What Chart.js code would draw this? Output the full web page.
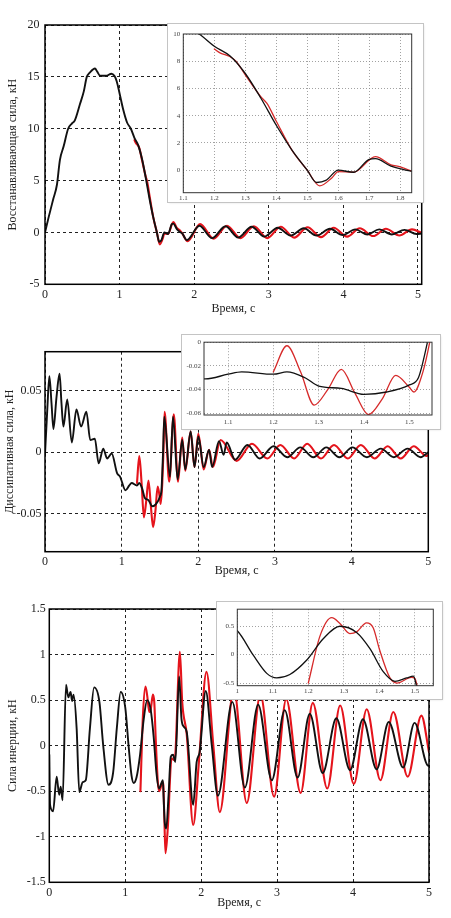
<!DOCTYPE html>
<html><head><meta charset="utf-8">
<script src="https://cdn.jsdelivr.net/npm/chart.js@4/dist/chart.umd.min.js"></script>
<style>
html,body{margin:0;padding:0;background:#fff;}
body{width:451px;height:918px;position:relative;overflow:hidden;}
canvas{position:absolute;display:block;}
.inset{outline:1px solid #c4c4c4;background:#fff;box-shadow:1px 1px 2px rgba(0,0,0,0.12);}
</style></head>
<body>
<canvas id="c1" width="451" height="318" style="left:0;top:0"></canvas>
<canvas id="c2" width="451" height="262" style="left:0;top:318px"></canvas>
<canvas id="c3" width="451" height="338" style="left:0;top:580px"></canvas>
<canvas id="i1" class="inset" width="255" height="178" style="left:168px;top:24px"></canvas>
<canvas id="i2" class="inset" width="258" height="94" style="left:182px;top:335px"></canvas>
<canvas id="i3" class="inset" width="225" height="97" style="left:217px;top:602px"></canvas>
<script>
// ---------- DATA ----------
// Restoring force (kN) — black: measured/reference, red: model (from 1.2 s)
const restT_black = [0,0.05,0.11,0.16,0.2,0.25,0.31,0.36,0.40,0.47,0.52,0.56,0.6,0.67,0.70,0.74,0.82,0.89,0.93,0.96,1.0,1.05,1.1,1.151,1.2,1.25,1.3,1.35,1.4,1.45,1.5,1.53,1.56,1.6,1.65,1.7,1.72,1.77,1.81,1.84,1.9,2.07,2.24,2.42,2.59,2.77,2.94,3.12,3.29,3.47,3.64,3.82,3.99,4.16,4.32,4.48,4.65,4.82,4.98,5.05];
const restV_black = [0,1.5,3.2,4.6,7.0,8.3,10.0,10.5,10.8,12.4,13.6,15.0,15.4,15.8,15.5,15.1,15.1,15.3,15.1,14.6,13.4,11.8,10.6,10.0,9.1,8.4,7.1,5.3,3.3,1.5,0.0,-0.9,-0.75,0.0,-0.15,0.8,0.85,0.3,0.05,-0.1,-0.74,0.65,-0.55,0.6,-0.5,0.55,-0.4,0.45,-0.3,0.4,-0.3,0.35,-0.25,0.3,-0.2,0.3,-0.2,0.25,-0.15,-0.1];
const restT_red = [1.2,1.22,1.25,1.27,1.3,1.35,1.37,1.4,1.45,1.5,1.54,1.58,1.6,1.65,1.72,1.77,1.8,1.84,1.91,2.08,2.26,2.44,2.62,2.80,2.98,3.16,3.34,3.52,3.70,3.87,4.05,4.22,4.40,4.57,4.75,4.92,5.05];
const restV_red = [8.9,8.6,8.35,8.0,7.0,5.4,4.9,3.6,1.5,0.0,-1.15,-0.55,-0.1,-0.15,1.0,0.4,0.25,-0.1,-0.85,0.8,-0.6,0.65,-0.55,0.6,-0.55,0.55,-0.5,0.5,-0.45,0.45,-0.4,0.4,-0.35,0.35,-0.3,0.3,-0.05];

// Dissipative force (kN)
const dissT_black = [0,0.03,0.057,0.085,0.11,0.15,0.19,0.215,0.24,0.29,0.35,0.41,0.47,0.54,0.59,0.65,0.70,0.76,0.81,0.87,0.94,0.98,1.05,1.1,1.13,1.2,1.23,1.27,1.3,1.35,1.4,1.45,1.5,1.52,1.54,1.556,1.63,1.67,1.73,1.79,1.83,1.9,1.95,2.0,2.07,2.14,2.18,2.27,2.33,2.37,2.48,2.64,2.8,2.98,3.16,3.33,3.5,3.67,3.84,4.01,4.2,4.38,4.55,4.73,4.9,5.0];
const dissV_black = [-0.002,0.035,0.062,0.04,0.019,0.045,0.064,0.04,0.021,0.043,0.008,0.035,0.021,0.033,0.01,0.011,-0.009,0.003,-0.005,-0.001,-0.017,-0.02,-0.031,-0.027,-0.025,-0.027,-0.025,-0.030,-0.037,-0.039,-0.044,-0.042,-0.036,-0.030,0.0,0.029,-0.020,0.029,-0.022,0.01,-0.014,0.017,-0.012,0.013,-0.012,0.002,-0.012,0.009,-0.002,0.008,-0.006,0.006,-0.005,0.005,-0.004,0.004,-0.004,0.004,-0.004,0.004,-0.004,0.003,-0.004,0.003,-0.004,0.0];
const dissT_red = [1.2,1.23,1.26,1.29,1.32,1.35,1.38,1.41,1.44,1.47,1.5,1.51,1.53,1.545,1.56,1.62,1.68,1.735,1.79,1.83,1.9,1.95,2.0,2.07,2.14,2.19,2.29,2.50,2.70,2.90,3.07,3.25,3.42,3.60,3.77,3.95,4.12,4.30,4.47,4.64,4.81,4.98,5.0];
const dissV_red = [-0.025,-0.003,-0.025,-0.053,-0.04,-0.023,-0.043,-0.061,-0.048,-0.028,-0.038,-0.042,-0.025,0.0,0.033,-0.024,0.031,-0.024,0.012,-0.015,0.017,-0.012,0.015,-0.014,0.002,-0.012,0.010,-0.007,0.007,-0.005,0.006,-0.005,0.007,-0.005,0.006,-0.005,0.006,-0.005,0.005,-0.005,0.005,-0.003,-0.002];

// Inertia force (kN)
const inerT_black = [0,0.01,0.05,0.097,0.13,0.15,0.175,0.22,0.25,0.28,0.30,0.32,0.36,0.395,0.44,0.48,0.535,0.59,0.66,0.71,0.78,0.84,0.89,0.94,1.0,1.045,1.083,1.111,1.148,1.195,1.242,1.289,1.336,1.374,1.411,1.444,1.477,1.496,1.505,1.52,1.54,1.57,1.6,1.63,1.66,1.71,1.74,1.77,1.81,1.895,1.94,1.98,2.06,2.14,2.22,2.41,2.575,2.75,2.93,3.10,3.27,3.43,3.60,3.78,3.96,4.13,4.31,4.47,4.66,4.81,4.99,5.0];
const inerV_black = [-0.1,-0.65,-0.72,-0.34,-0.54,-0.45,-0.6,0.67,0.53,0.59,0.49,0.56,0.19,-0.51,-0.40,-0.38,0.19,0.64,0.48,0.0,-0.43,-0.30,0.2,0.59,0.42,-0.01,-0.33,-0.41,-0.35,-0.1,0.28,0.5,0.39,0.1,-0.3,-0.47,-0.41,-0.38,-0.56,-0.84,-0.91,-0.55,-0.12,-0.1,-0.18,0.76,0.3,0.21,0.15,-0.65,-0.18,-0.07,0.6,0.0,-0.55,0.48,-0.46,0.45,-0.38,0.39,-0.35,0.35,-0.30,0.30,-0.27,0.29,-0.26,0.26,-0.24,0.25,-0.22,-0.22];
const inerT_red = [1.2,1.233,1.266,1.289,1.317,1.336,1.364,1.383,1.40,1.43,1.45,1.49,1.5,1.515,1.53,1.56,1.61,1.65,1.72,1.75,1.81,1.895,1.97,2.07,2.16,2.245,2.43,2.6,2.78,2.96,3.12,3.31,3.47,3.66,3.83,4.01,4.18,4.36,4.53,4.72,4.9,5.0];
const inerV_red = [-0.5,0.33,0.65,0.55,0.37,0.4,0.56,0.47,0.1,-0.41,-0.5,-0.4,-0.42,-0.8,-1.18,-0.91,-0.14,-0.16,1.03,0.48,0.12,-0.87,-0.18,0.81,0.0,-0.73,0.62,-0.63,0.56,-0.56,0.51,-0.52,0.47,-0.47,0.44,-0.42,0.40,-0.38,0.37,-0.34,0.33,-0.07];

// Tick labels
const xTicksMain = [0,1,2,3,4,5];
const yTicksRest = [-5,0,5,10,15,20];
const yTicksDiss = [-0.05,0,0.05];
const yTicksIner = [-1.5,-1,-0.5,0,0.5,1,1.5];
const xTicksInset1 = [1.1,1.2,1.3,1.4,1.5,1.6,1.7,1.8];
const yTicksInset1 = [0,2,4,6,8,10];
const xTicksInset2 = [1.1,1.2,1.3,1.4,1.5];
const yTicksInset2 = [-0.06,-0.04,-0.02,0];
const xTicksInset3 = [1,1.1,1.2,1.3,1.4,1.5];
const yTicksInset3 = [-0.5,0,0.5];

const xTitle = 'Время, с';
const yTitleRest = 'Восстанавливающая сила, кН';
const yTitleDiss = 'Диссипативная сила, кН';
const yTitleIner = 'Сила инерции, кН';

// ---------- RENDERING ----------
const SERIF = "'Liberation Serif','DejaVu Serif',serif";
const pts = (t, v) => t.map((x, i) => ({x, y: v[i]}));

const framePlugin = {
  id: 'frame',
  afterDraw(chart, args, o) {
    const {ctx, chartArea: a} = chart;
    ctx.save();
    ctx.strokeStyle = o.color || '#000';
    ctx.lineWidth = o.width || 1;
    ctx.strokeRect(a.left, a.top, a.right - a.left, a.bottom - a.top);
    ctx.restore();
  }
};

function fmt(v) { return String(+v.toFixed(4)); }

function makeChart(id, o) {
  const W = o.W, H = o.H, A = o.area;
  const small = !!o.inset;
  const gridStyle = small
    ? {color: '#8a8a8a', lineWidth: 0.8, drawTicks: false}
    : {color: '#222', lineWidth: 1, drawTicks: false};
  const dash = small ? [1, 2] : [3, 3];
  const tickFont = {family: SERIF, size: small ? 7 : 12};
  const tickColor = small ? '#444' : '#222';
  const titleFont = {family: SERIF, size: 12};
  return new Chart(document.getElementById(id), {
    type: 'line',
    data: {datasets: [
      {data: pts(o.bt, o.bv), borderColor: '#111', borderWidth: small ? 1.3 : 1.9, order: 0},
      {data: pts(o.rt, o.rv), borderColor: small ? '#d62a2a' : '#e5141c', borderWidth: small ? 1.3 : 2.1, order: 1}
    ]},
    options: {
      responsive: false, animation: false, events: [],
      layout: {padding: {left: 0, top: A.t, right: W - A.r, bottom: 0}},
      plugins: {legend: {display: false}, tooltip: {enabled: false},
                frame: {color: small ? '#333' : '#000', width: small ? 1 : 1.5}},
      elements: {point: {radius: 0}, line: {cubicInterpolationMode: 'monotone', borderJoinStyle: 'round', borderCapStyle: 'round'}},
      scales: {
        x: {
          type: 'linear', min: o.xmin, max: o.xmax,
          afterBuildTicks: s => { s.ticks = o.xt.map(v => ({value: v})); },
          afterFit: s => { s.height = H - A.b; },
          grid: gridStyle, border: {display: false, dash: dash},
          ticks: {font: tickFont, color: tickColor, padding: o.xPad, maxRotation: 0, autoSkip: false, callback: v => fmt(v)},
          title: o.xTitle ? {display: true, text: o.xTitle, font: titleFont, color: '#222', padding: {top: 0, bottom: o.xTitlePad}} : {display: false}
        },
        y: {
          type: 'linear', min: o.ymin, max: o.ymax,
          afterBuildTicks: s => { s.ticks = o.yt.map(v => ({value: v})); },
          afterFit: s => { s.width = A.l; },
          grid: gridStyle, border: {display: false, dash: dash},
          ticks: {font: tickFont, color: tickColor, padding: o.yPad, autoSkip: false, callback: v => fmt(v)},
          title: o.yTitle ? {display: true, text: o.yTitle, font: titleFont, color: '#222', padding: {top: o.yTitlePad, bottom: 0}} : {display: false}
        }
      }
    },
    plugins: [framePlugin]
  });
}

// Main charts
makeChart('c1', {W: 451, H: 318, area: {l: 45, t: 25, r: 421.7, b: 284.3},
  bt: restT_black, bv: restV_black, rt: restT_red, rv: restV_red,
  xmin: 0, xmax: 5.05, ymin: -5, ymax: 20, xt: xTicksMain, yt: yTicksRest,
  xPad: 3, yPad: 5.5, xTitle: xTitle, xTitlePad: 1.8, yTitle: yTitleRest, yTitlePad: 5.8});

makeChart('c2', {W: 451, H: 262, area: {l: 45, t: 33.7, r: 428.3, b: 233.7},
  bt: dissT_black, bv: dissV_black, rt: dissT_red, rv: dissV_red,
  xmin: 0, xmax: 5, ymin: -0.081, ymax: 0.082, xt: xTicksMain, yt: yTicksDiss,
  xPad: 3, yPad: 3.5, xTitle: xTitle, xTitlePad: 2.1, yTitle: yTitleDiss, yTitlePad: 2.3});

makeChart('c3', {W: 451, H: 338, area: {l: 49.3, t: 29, r: 429, b: 302.3},
  bt: inerT_black, bv: inerV_black, rt: inerT_red, rv: inerV_red,
  xmin: 0, xmax: 5, ymin: -1.5, ymax: 1.5, xt: xTicksMain, yt: yTicksIner,
  xPad: 3, yPad: 3.5, xTitle: xTitle, xTitlePad: 7.5, yTitle: yTitleIner, yTitlePad: 5.3});

// Insets (zoomed views of the same series)
makeChart('i1', {inset: true, W: 255, H: 178, area: {l: 15.3, t: 10, r: 243.7, b: 168.7},
  bt: restT_black, bv: restV_black, rt: restT_red, rv: restV_red,
  xmin: 1.1, xmax: 1.837, ymin: -1.65, ymax: 10, xt: xTicksInset1, yt: yTicksInset1, xPad: 1, yPad: 3});

makeChart('i2', {inset: true, W: 258, H: 94, area: {l: 22, t: 5, r: 250, b: 80},
  bt: dissT_black, bv: dissV_black, rt: dissT_red, rv: dissV_red,
  xmin: 1.047, xmax: 1.55, ymin: -0.0614, ymax: 0, xt: xTicksInset2, yt: yTicksInset2, xPad: 3, yPad: 3});

makeChart('i3', {inset: true, W: 225, H: 97, area: {l: 20.3, t: 5.7, r: 216.3, b: 83.7},
  bt: inerT_black, bv: inerV_black, rt: inerT_red, rv: inerV_red,
  xmin: 1.0, xmax: 1.552, ymin: -0.547, ymax: 0.8, xt: xTicksInset3, yt: yTicksInset3, xPad: 1, yPad: 3});
</script>
</body></html>
